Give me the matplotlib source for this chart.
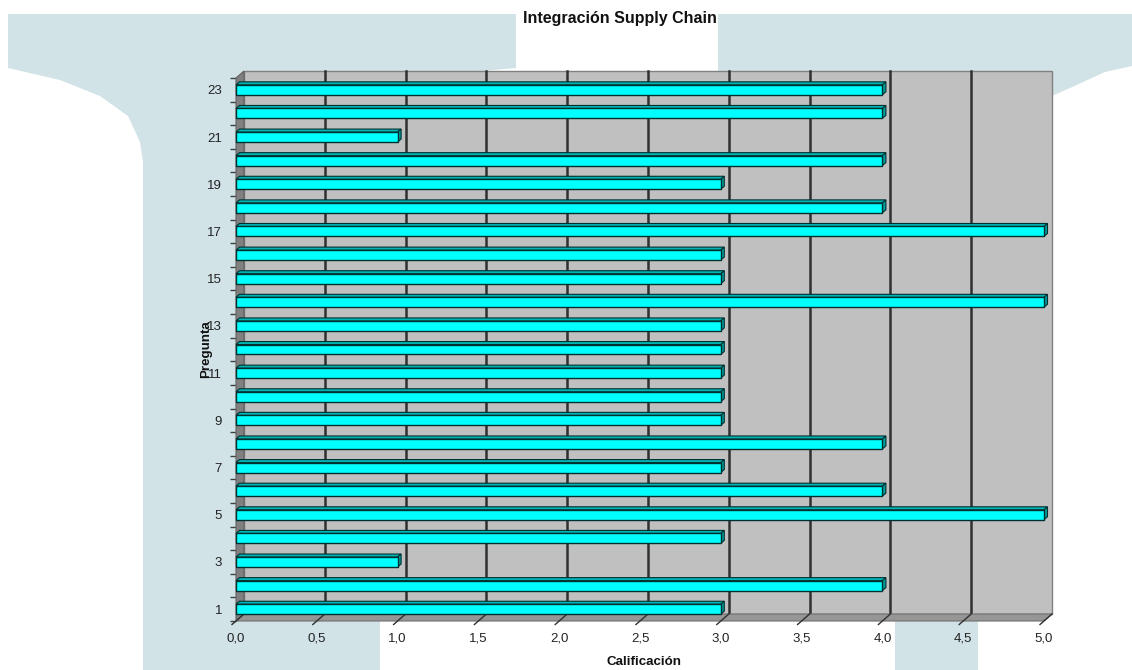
import numpy as np
import matplotlib
matplotlib.use("Agg")
import matplotlib.pyplot as plt
from matplotlib.patches import Polygon, Rectangle

plt.rcParams['font.family'] = ['Liberation Sans', 'DejaVu Sans']

# Calificación por pregunta
preguntas = list(range(1, 24))
calificacion = [3, 4, 1, 3, 5, 4, 3, 4, 3, 3, 3, 3, 3, 5, 3, 3, 5, 4, 3, 4, 1, 4, 4]
xticks = np.arange(0, 5.01, 0.5)
xtick_labels = [f"{t:.1f}".replace('.', ',') for t in xticks]
ytick_labels = [str(p) for p in preguntas[::2]]

W, H = 1132, 670
fig = plt.figure(figsize=(W / 100, H / 100), dpi=100)
fig.patch.set_facecolor('white')

# faded background logo (two T shapes)
bg = fig.add_axes([0, 0, 1, 1], zorder=0)
bg.set_xlim(0, W)
bg.set_ylim(H, 0)
bg.axis('off')
wm = '#D1E3E7'
left_t = [(8, 14), (516, 14), (516, 68), (470, 72), (420, 88), (390, 120), (380, 162),
          (380, 670), (143, 670), (143, 162), (140, 142), (128, 116), (100, 96),
          (60, 80), (8, 68)]
right_t = [(718, 14), (1132, 14), (1132, 66), (1105, 72), (1070, 88), (1020, 110),
           (990, 135), (978, 165), (978, 670), (895, 670), (895, 165), (870, 120),
           (800, 90), (718, 72)]
for shape in (left_t, right_t):
    bg.add_patch(Polygon(shape, closed=True, facecolor=wm, edgecolor='none'))

# front plane of the plot box
x0, x1 = 236, 1044
y_top, y_bot = 78, 621
ax = fig.add_axes([x0 / W, 1 - y_bot / H, (x1 - x0) / W, (y_bot - y_top) / H], zorder=1)
ax.set_xlim(0, 5)
ax.set_ylim(0.5, 23.5)
ax.patch.set_visible(False)
for s in ax.spines.values():
    s.set_visible(False)

px_x = (x1 - x0) / 5.0
px_y = (y_bot - y_top) / 23.0
DX, DY = 8 / px_x, 7 / px_y      # wall depth in data units
BX, BY = 3.5 / px_x, 3 / px_y    # bar depth in data units

# back wall, side wall and floor
ax.add_patch(Rectangle((DX, 0.5 + DY), 5, 23, facecolor='#C0C0C0',
                       edgecolor='#808080', lw=1, clip_on=False, zorder=1))
ax.add_patch(Polygon([(0, 0.5), (0, 23.5), (DX, 23.5 + DY), (DX, 0.5 + DY)],
                     facecolor='#808080', edgecolor='#606060', lw=0.8, clip_on=False, zorder=2))
ax.add_patch(Polygon([(0, 0.5), (5, 0.5), (5 + DX, 0.5 + DY), (DX, 0.5 + DY)],
                     facecolor='#969696', edgecolor='#707070', lw=0.8, clip_on=False, zorder=2))

# gridlines on the wall, slanted across the floor, then out as ticks
for t in xticks:
    if 0 < t < 5:
        ax.plot([t + DX, t + DX], [0.5 + DY, 23.5 + DY], color='#303030', lw=1.8,
                clip_on=False, zorder=1.5)
    ax.plot([t + DX, t - 0.5 * DX], [0.5 + DY, 0.5 - 0.5 * DY], color='#303030', lw=1,
            clip_on=False, zorder=2.5)

# bars: front face, top face, end face
h = 0.42
ax.barh(preguntas, calificacion, height=h, color='#00FFFF', edgecolor='#003030',
        lw=1.0, zorder=5, clip_on=False)
for p, v in zip(preguntas, calificacion):
    yt = p + h / 2
    yb = p - h / 2
    ax.add_patch(Polygon([(0, yt), (v, yt), (v + BX, yt + BY), (BX, yt + BY)],
                         facecolor='#00B4B4', edgecolor='#003030', lw=0.8,
                         clip_on=False, zorder=4))
    ax.add_patch(Polygon([(v, yb), (v, yt), (v + BX, yt + BY), (v + BX, yb + BY)],
                         facecolor='#009A9A', edgecolor='#003030', lw=0.8,
                         clip_on=False, zorder=4))

# axes ticks and labels
ax.set_yticks(preguntas[::2])
ax.set_yticklabels(ytick_labels)
ax.set_yticks(np.arange(0.5, 23.6, 1), minor=True)
ax.tick_params(axis='y', which='major', length=0, pad=10, labelsize=9.5, labelcolor='#222222')
ax.tick_params(axis='y', which='minor', length=4, width=1, color='#404040')
ax.set_xticks(xticks)
ax.set_xticklabels(xtick_labels)
ax.tick_params(axis='x', which='major', length=0, pad=8, labelsize=9.5, labelcolor='#222222')

fig.text(620 / W, 1 - 18 / H, 'Integración Supply Chain', ha='center', va='center',
         fontsize=11.5, fontweight='bold', color='#111111')
fig.text(644 / W, 1 - 662 / H, 'Calificación', ha='center', va='center',
         fontsize=9.6, fontweight='bold', color='#111111')
fig.text(206 / W, 1 - 349 / H, 'Pregunta', ha='center', va='center', rotation=90,
         fontsize=9.6, fontweight='bold', color='#111111', zorder=3)

fig.savefig('out.png', dpi=100)
